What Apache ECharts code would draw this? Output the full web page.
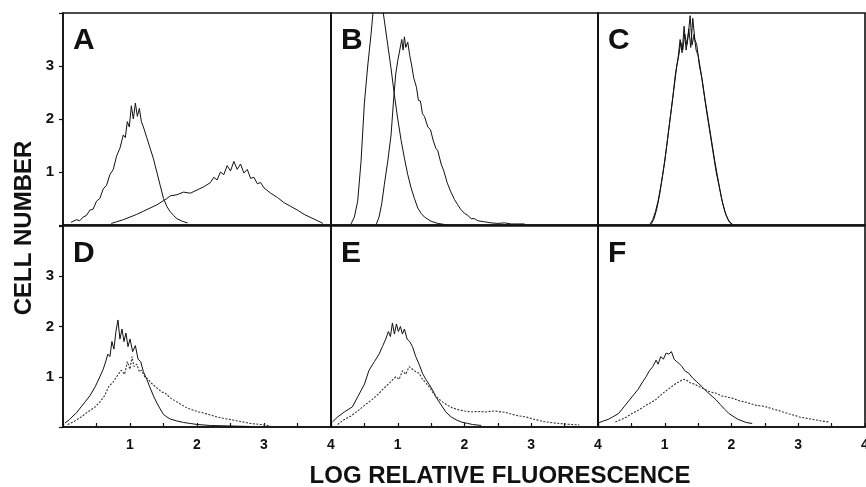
<!DOCTYPE html>
<html>
<head>
<meta charset="utf-8">
<script src="https://cdn.jsdelivr.net/npm/echarts@6/dist/echarts.min.js"></script>
<style>html,body{margin:0;padding:0;background:#fff}#c{width:866px;height:487px}</style>
</head>
<body>
<div id="c"></div>
<script>
// ---- data (x = log relative fluorescence, y = cell number) ----
const panelLetters = ['A', 'B', 'C', 'D', 'E', 'F'];
const xTickLabels = ['1', '2', '3', '4'];
const yTickLabels = ['1', '2', '3'];
const xTitle = 'LOG RELATIVE FLUORESCENCE';
const yTitle = 'CELL NUMBER';

const A1 = [[0.12,0.05],[0.2,0.1],[0.25,0.08],[0.3,0.15],[0.35,0.18],[0.4,0.28],[0.45,0.3],[0.5,0.45],[0.55,0.5],[0.6,0.68],[0.65,0.75],[0.7,0.95],[0.75,1.05],[0.8,1.3],[0.85,1.45],[0.9,1.7],[0.93,1.65],[0.96,1.95],[0.99,1.85],[1.02,2.25],[1.05,2.0],[1.08,2.3],[1.11,2.05],[1.14,2.2],[1.17,1.95],[1.2,1.85],[1.25,1.65],[1.3,1.45],[1.35,1.25],[1.4,1.0],[1.45,0.75],[1.5,0.5],[1.55,0.35],[1.6,0.25],[1.65,0.18],[1.7,0.12],[1.78,0.07],[1.86,0.04]];
const A2 = [[0.72,0.03],[0.8,0.06],[0.9,0.1],[1.0,0.15],[1.1,0.2],[1.2,0.26],[1.3,0.32],[1.4,0.38],[1.5,0.46],[1.55,0.5],[1.6,0.55],[1.7,0.57],[1.8,0.62],[1.9,0.6],[2.0,0.66],[2.1,0.72],[2.2,0.8],[2.25,0.9],[2.3,0.85],[2.35,1.0],[2.4,0.95],[2.45,1.12],[2.5,1.02],[2.55,1.2],[2.6,1.05],[2.65,1.15],[2.7,0.98],[2.75,1.05],[2.8,0.88],[2.85,0.9],[2.9,0.78],[2.95,0.8],[3.0,0.7],[3.1,0.6],[3.2,0.52],[3.3,0.42],[3.4,0.35],[3.5,0.28],[3.6,0.2],[3.7,0.14],[3.8,0.08],[3.88,0.03]];
const B1 = [[0.3,0.02],[0.35,0.15],[0.4,0.45],[0.45,1.2],[0.5,2.3],[0.55,3.0],[0.6,3.6],[0.65,4.3],[0.7,4.5],[0.75,4.3],[0.8,3.85],[0.85,3.4],[0.9,2.95],[0.95,2.45],[1.0,2.0],[1.05,1.6],[1.1,1.26],[1.15,0.95],[1.2,0.7],[1.25,0.5],[1.3,0.32],[1.35,0.22],[1.4,0.15],[1.45,0.11],[1.5,0.07],[1.6,0.03],[1.7,0.01]];
const B2 = [[0.68,0.02],[0.72,0.15],[0.76,0.4],[0.8,0.77],[0.85,1.2],[0.9,1.7],[0.94,2.4],[0.97,2.85],[1.0,3.1],[1.03,3.3],[1.06,3.5],[1.08,3.3],[1.1,3.55],[1.12,3.35],[1.15,3.45],[1.18,3.2],[1.21,3.0],[1.24,2.77],[1.28,2.6],[1.31,2.35],[1.34,2.34],[1.37,2.1],[1.4,2.05],[1.45,1.85],[1.49,1.8],[1.53,1.6],[1.57,1.45],[1.6,1.4],[1.65,1.15],[1.69,1.02],[1.74,0.8],[1.79,0.64],[1.85,0.48],[1.9,0.38],[1.94,0.3],[2.0,0.22],[2.05,0.18],[2.1,0.12],[2.15,0.12],[2.2,0.08],[2.3,0.06],[2.4,0.04],[2.5,0.03],[2.6,0.04],[2.7,0.02],[2.9,0.02]];
const C1 = [[0.78,0.02],[0.82,0.1],[0.86,0.25],[0.9,0.45],[0.95,0.8],[1.0,1.2],[1.05,1.7],[1.1,2.2],[1.15,2.7],[1.18,3.0],[1.21,3.2],[1.24,3.45],[1.27,3.3],[1.3,3.6],[1.33,3.4],[1.36,3.7],[1.39,3.35],[1.42,3.9],[1.45,3.5],[1.48,3.4],[1.52,3.0],[1.56,2.75],[1.6,2.4],[1.65,2.0],[1.7,1.6],[1.75,1.2],[1.8,0.85],[1.85,0.5],[1.9,0.25],[1.95,0.1],[2.0,0.02]];
const C2 = [[0.8,0.02],[0.84,0.12],[0.88,0.3],[0.92,0.55],[0.97,0.95],[1.02,1.4],[1.07,1.9],[1.12,2.4],[1.16,2.85],[1.2,3.15],[1.23,3.5],[1.26,3.25],[1.29,3.75],[1.32,3.3],[1.35,3.55],[1.38,3.95],[1.41,3.4],[1.44,3.6],[1.47,3.3],[1.5,3.2],[1.54,2.9],[1.58,2.55],[1.62,2.2],[1.67,1.8],[1.72,1.4],[1.77,1.0],[1.82,0.7],[1.87,0.4],[1.92,0.18],[1.97,0.05],[2.02,0.01]];
const D1 = [[0.03,0.08],[0.1,0.15],[0.15,0.22],[0.2,0.28],[0.27,0.4],[0.33,0.5],[0.4,0.62],[0.48,0.8],[0.55,1.0],[0.6,1.15],[0.63,1.27],[0.67,1.45],[0.7,1.4],[0.73,1.7],[0.76,1.55],[0.79,1.9],[0.82,2.13],[0.85,1.75],[0.88,1.95],[0.91,1.7],[0.94,1.87],[0.97,1.6],[1.0,1.75],[1.04,1.5],[1.08,1.62],[1.12,1.35],[1.16,1.3],[1.2,1.1],[1.25,0.95],[1.3,0.78],[1.35,0.62],[1.4,0.48],[1.45,0.36],[1.5,0.25],[1.55,0.2],[1.6,0.16],[1.7,0.12],[1.8,0.09],[1.9,0.07],[2.0,0.05],[2.2,0.03],[2.5,0.02],[2.8,0.01]];
const D2 = [[0.07,0.05],[0.15,0.1],[0.25,0.18],[0.35,0.28],[0.48,0.4],[0.55,0.5],[0.62,0.62],[0.68,0.8],[0.75,0.9],[0.8,1.0],[0.87,1.13],[0.92,1.05],[0.96,1.3],[1.0,1.15],[1.03,1.4],[1.06,1.2],[1.1,1.25],[1.14,1.1],[1.17,1.13],[1.22,1.0],[1.27,0.95],[1.32,0.87],[1.4,0.78],[1.47,0.7],[1.53,0.67],[1.6,0.58],[1.7,0.5],[1.77,0.44],[1.85,0.38],[1.95,0.33],[2.03,0.3],[2.15,0.26],[2.3,0.2],[2.4,0.17],[2.53,0.14],[2.65,0.11],[2.8,0.07],[2.95,0.05],[3.1,0.02]];
const E1 = [[0.02,0.1],[0.1,0.2],[0.2,0.3],[0.32,0.4],[0.4,0.6],[0.5,0.85],[0.57,1.13],[0.65,1.3],[0.72,1.45],[0.77,1.6],[0.82,1.75],[0.86,1.9],[0.89,1.8],[0.92,2.07],[0.95,1.85],[0.98,2.05],[1.01,1.9],[1.04,2.0],[1.07,1.85],[1.1,1.95],[1.14,1.75],[1.18,1.7],[1.22,1.6],[1.27,1.4],[1.32,1.25],[1.37,1.07],[1.42,0.95],[1.47,0.85],[1.52,0.74],[1.57,0.6],[1.62,0.5],[1.67,0.4],[1.72,0.3],[1.8,0.2],[1.88,0.14],[1.95,0.1],[2.05,0.07],[2.12,0.05],[2.25,0.03]];
const E2 = [[0.1,0.05],[0.2,0.15],[0.3,0.22],[0.42,0.34],[0.52,0.45],[0.62,0.55],[0.72,0.67],[0.8,0.78],[0.88,0.88],[0.97,1.0],[1.02,0.95],[1.07,1.12],[1.12,1.05],[1.17,1.2],[1.22,1.15],[1.27,1.1],[1.32,1.07],[1.37,0.95],[1.42,0.88],[1.47,0.8],[1.52,0.7],[1.57,0.62],[1.62,0.55],[1.67,0.5],[1.75,0.43],[1.82,0.38],[1.92,0.34],[2.0,0.32],[2.1,0.3],[2.2,0.31],[2.32,0.3],[2.45,0.32],[2.55,0.3],[2.62,0.29],[2.72,0.25],[2.82,0.22],[2.92,0.2],[3.05,0.15],[3.15,0.12],[3.22,0.1],[3.35,0.08],[3.5,0.06],[3.6,0.05],[3.72,0.04]];
const F1 = [[0.0,0.08],[0.08,0.12],[0.15,0.15],[0.22,0.2],[0.31,0.27],[0.4,0.42],[0.51,0.6],[0.6,0.75],[0.67,0.9],[0.72,1.0],[0.77,1.12],[0.82,1.2],[0.87,1.33],[0.9,1.25],[0.94,1.4],[0.98,1.35],[1.02,1.47],[1.06,1.45],[1.1,1.5],[1.14,1.35],[1.18,1.3],[1.21,1.27],[1.26,1.2],[1.3,1.12],[1.36,1.07],[1.42,0.97],[1.48,0.9],[1.56,0.8],[1.65,0.68],[1.72,0.6],[1.77,0.54],[1.83,0.45],[1.9,0.35],[1.96,0.27],[2.04,0.2],[2.1,0.15],[2.16,0.12],[2.22,0.09],[2.31,0.07]];
const F2 = [[0.26,0.1],[0.35,0.15],[0.43,0.2],[0.51,0.27],[0.6,0.33],[0.68,0.4],[0.77,0.47],[0.87,0.55],[0.97,0.67],[1.05,0.75],[1.12,0.82],[1.17,0.87],[1.22,0.9],[1.27,0.95],[1.32,0.94],[1.38,0.88],[1.45,0.85],[1.52,0.8],[1.6,0.75],[1.68,0.7],[1.77,0.67],[1.85,0.62],[1.93,0.6],[2.02,0.57],[2.12,0.52],[2.2,0.5],[2.27,0.47],[2.37,0.43],[2.45,0.42],[2.52,0.4],[2.62,0.36],[2.7,0.33],[2.77,0.3],[2.87,0.26],[2.95,0.23],[3.02,0.2],[3.1,0.18],[3.18,0.16],[3.27,0.14],[3.35,0.12],[3.46,0.1]];

const panelSeries = [[A1, A2], [B1, B2], [C1, C2], [D1, D2], [E1, E2], [F1, F2]];
const panelDotted = [[false, false], [false, false], [false, false], [false, true], [false, true], [false, true]];

// ---- layout ----
const FONT = '"Liberation Sans", Arial, Helvetica, sans-serif';
const lefts = [63, 331, 598];
const widths = [268, 267, 267];
const tops = [13, 226];
const heights = [212, 201];

const grids = [], xAxes = [], yAxes = [], series = [], graphics = [];
for (let i = 0; i < 6; i++) {
  const r = Math.floor(i / 3), c = i % 3;
  grids.push({left: lefts[c], top: tops[r], width: widths[c], height: heights[r],
    containLabel: false, outerBoundsMode: 'none',
    show: true, borderColor: '#111', borderWidth: 1.6, backgroundColor: 'transparent'});
  xAxes.push({type: 'value', gridIndex: i, min: 0, max: 4, interval: 0.5,
    axisLine: {show: true, lineStyle: {color: '#111', width: 1.6}},
    axisTick: {show: r === 1, inside: true, length: 4, lineStyle: {color: '#111', width: 1.2}},
    axisLabel: {show: r === 1, margin: 11, color: '#111', fontFamily: FONT, fontWeight: 'bold', fontSize: 14,
      hideOverlap: false,
      formatter: v => (Number.isInteger(v) && v > 0) ? xTickLabels[v - 1] : ''},
    splitLine: {show: false}});
  yAxes.push({type: 'value', gridIndex: i, min: 0, max: 4, interval: 1,
    axisLine: {show: true, lineStyle: {color: '#111', width: 1.6}},
    axisTick: {show: c === 0, inside: false, length: 4, lineStyle: {color: '#111', width: 1.2}},
    axisLabel: {show: c === 0, margin: 9, color: '#111', fontFamily: FONT, fontWeight: 'bold', fontSize: 15,
      formatter: v => (v >= 1 && v <= 3) ? yTickLabels[v - 1] : ''},
    splitLine: {show: false}});
  panelSeries[i].forEach((d, k) => {
    const dotted = panelDotted[i][k];
    series.push({type: 'line', xAxisIndex: i, yAxisIndex: i, data: d, showSymbol: false, clip: true,
      animation: false, silent: true,
      lineStyle: {color: dotted ? '#333' : '#111', width: dotted ? 1.1 : 1, type: dotted ? [2, 1.5] : 'solid'}});
  });
  graphics.push({type: 'text', left: lefts[c] + 10, top: tops[r] + 13,
    style: {text: panelLetters[i], font: 'bold 30px ' + FONT, fill: '#111'}});
}
graphics.push({type: 'text', x: 24, y: 228, rotation: Math.PI / 2,
  style: {text: yTitle, font: 'bold 24px ' + FONT, fill: '#111', align: 'center', verticalAlign: 'middle'}});
graphics.push({type: 'text', x: 500, y: 476,
  style: {text: xTitle, font: 'bold 24px ' + FONT, fill: '#111', align: 'center', verticalAlign: 'middle'}});

const chart = echarts.init(document.getElementById('c'), null, {renderer: 'canvas'});
chart.setOption({animation: false, backgroundColor: '#fff', grid: grids, xAxis: xAxes, yAxis: yAxes, series: series, graphic: graphics});
</script>
</body>
</html>
